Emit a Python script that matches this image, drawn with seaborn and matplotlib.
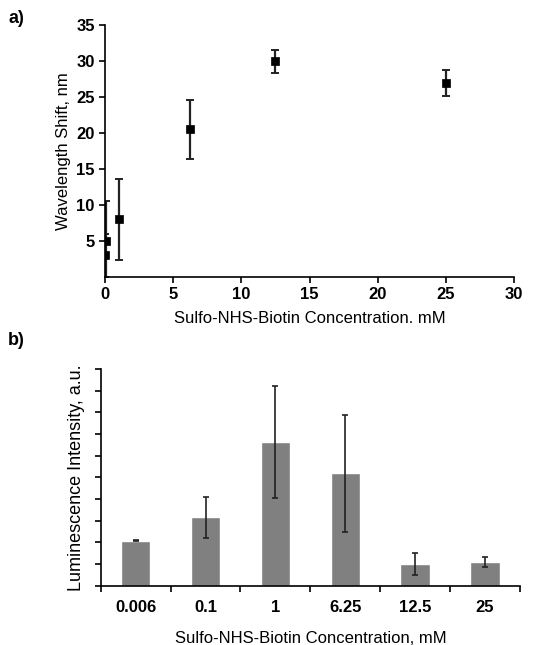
import numpy as np
import pandas as pd
import seaborn as sns
import matplotlib.pyplot as plt

sns.set_style('ticks', {'axes.edgecolor': 'black', 'text.color': 'black',
                        'axes.labelcolor': 'black', 'xtick.color': 'black',
                        'ytick.color': 'black'})
plt.rcParams['font.family'] = ['Liberation Sans', 'DejaVu Sans']

# panel a: wavelength shift
conc_a = [0.006, 0.1, 1, 6.25, 12.5, 25]
shift = [3, 5, 8, 20.5, 30, 27]
shift_err = [3, 5.6, 5.6, 4.1, 1.6, 1.8]

# panel b: luminescence
conc_b = ['0.006', '0.1', '1', '6.25', '12.5', '25']
lum = [2.07, 3.16, 6.62, 5.19, 0.98, 1.09]
lum_err = [0.03, 0.94, 2.58, 2.7, 0.51, 0.24]

fig = plt.figure(figsize=(5.36, 6.45), dpi=100)
ax1 = fig.add_axes([0.196, 0.5705, 0.763, 0.3907])
ax2 = fig.add_axes([0.188, 0.092, 0.782, 0.336])

df_a = pd.DataFrame({'conc': conc_a, 'shift': shift})
ax1.errorbar(conc_a, shift, yerr=shift_err, fmt='none', ecolor='#222222',
             elinewidth=1.6, capsize=3, capthick=1.4, zorder=2)
sns.scatterplot(data=df_a, x='conc', y='shift', ax=ax1, marker='s', s=40,
                color='black', edgecolor='black', zorder=3)
ax1.set_xlim(0, 30)
ax1.set_ylim(0, 35)
ax1.set_xticks(range(0, 31, 5))
ax1.set_yticks(range(5, 36, 5))
ax1.set_xlabel('Sulfo-NHS-Biotin Concentration. mM', fontsize=12, labelpad=6)
ax1.set_ylabel('Wavelength Shift, nm', fontsize=12)
for lab in ax1.get_xticklabels() + ax1.get_yticklabels():
    lab.set_fontweight('bold')
    lab.set_fontsize(12)

df_b = pd.DataFrame({'conc': conc_b, 'lum': lum})
sns.barplot(data=df_b, x='conc', y='lum', ax=ax2, color='#808080',
            saturation=1, width=0.42, errorbar=None)
ax2.errorbar(range(len(conc_b)), lum, yerr=lum_err, fmt='none',
             ecolor='#222222', elinewidth=1.2, capsize=2.5, capthick=1.2)
ax2.set_xlim(-0.5, 5.5)
ax2.set_ylim(0, 10)
ax2.set_yticks(range(0, 11))
ax2.set_yticklabels([])
ax2.set_xticks(np.arange(-0.5, 5.6, 1), minor=False)
ax2.set_xticklabels([])
ax2.set_xticks(range(len(conc_b)), minor=True)
ax2.set_xticklabels(conc_b, minor=True)
ax2.tick_params(axis='x', which='minor', length=0, pad=10)
ax2.set_xlabel('Sulfo-NHS-Biotin Concentration, mM', fontsize=12, labelpad=12)
ax2.set_ylabel('Luminescence Intensity, a.u.', fontsize=13)
for lab in ax2.get_xticklabels(minor=True):
    lab.set_fontweight('bold')
    lab.set_fontsize(12)

for ax in (ax1, ax2):
    sns.despine(ax=ax)
    ax.spines['left'].set_linewidth(1.2)
    ax.spines['bottom'].set_linewidth(1.2)
    ax.tick_params(width=1.2, length=4)

fig.text(0.015, 0.965, 'a)', fontsize=13, fontweight='bold')
fig.text(0.015, 0.465, 'b)', fontsize=13, fontweight='bold')

fig.savefig('out.png', dpi=100)
